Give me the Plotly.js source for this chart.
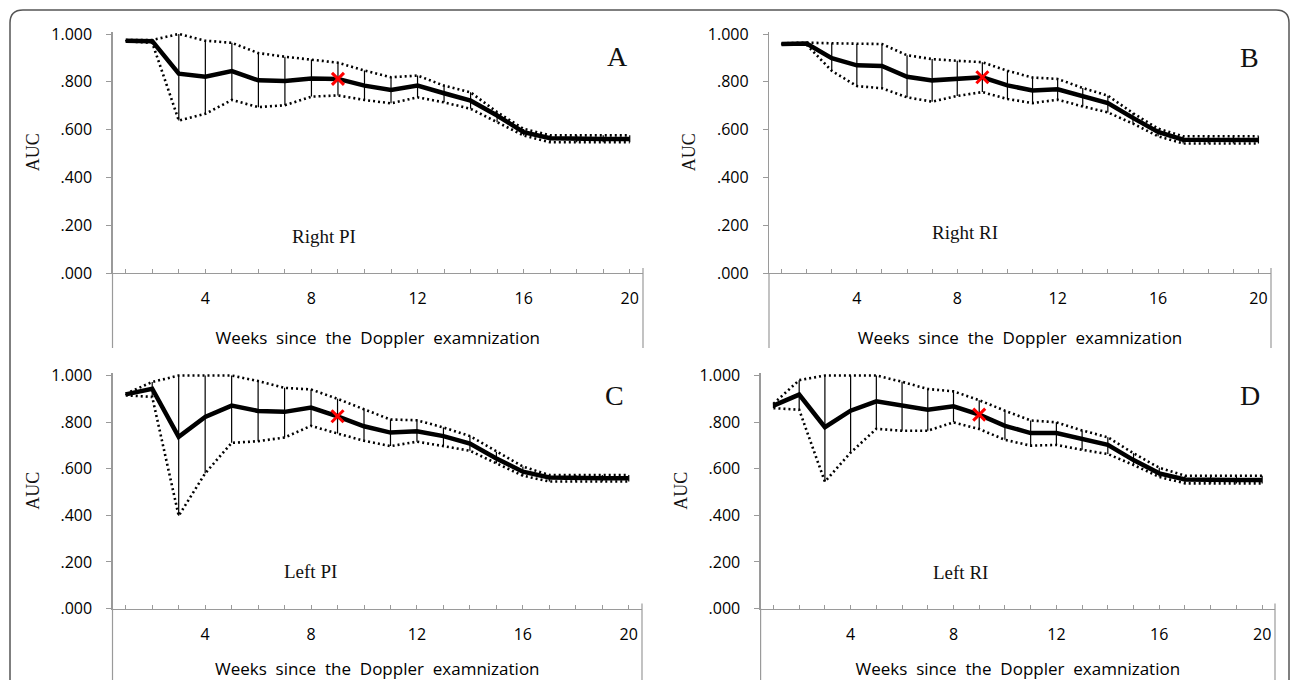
<!DOCTYPE html>
<html>
<head>
<meta charset="utf-8">
<script src="https://cdn.plot.ly/plotly-3.0.1.min.js"></script>
<style>html,body{margin:0;padding:0;background:#fff;}#chart{width:1292px;height:680px;}</style>
</head>
<body>
<div id="chart"></div>
<script>
// ---------------- DATA ----------------
const weeks = [1,2,3,4,5,6,7,8,9,10,11,12,13,14,15,16,17,18,19,20];
const xTickLabels = ['','','','4','','','','8','','','','12','','','','16','','','','20'];
const yTickVals = [0, 0.2, 0.4, 0.6, 0.8, 1.0];
const yTickLabels = ['.000', '.200', '.400', '.600', '.800', '1.000'];
const cutoffWeek = 9;

const panelNames = ['Right PI', 'Right RI', 'Left PI', 'Left RI'];
const panelLetters = ['A', 'B', 'C', 'D'];

// A: Right PI
const rightPI_mean  = [0.972,0.970,0.834,0.821,0.845,0.806,0.803,0.814,0.812,0.784,0.766,0.784,0.752,0.721,0.659,0.589,0.564,0.561,0.561,0.561];
const rightPI_upper = [0.975,0.975,1.000,0.972,0.963,0.920,0.905,0.893,0.880,0.847,0.819,0.826,0.784,0.756,0.673,0.603,0.576,0.576,0.576,0.576];
const rightPI_lower = [0.969,0.963,0.638,0.666,0.724,0.694,0.702,0.738,0.743,0.724,0.710,0.735,0.714,0.687,0.631,0.575,0.547,0.547,0.547,0.547];

// B: Right RI
const rightRI_mean  = [0.958,0.960,0.899,0.869,0.866,0.821,0.806,0.813,0.819,0.785,0.764,0.769,0.739,0.711,0.649,0.590,0.558,0.556,0.556,0.556];
const rightRI_upper = [0.961,0.964,0.961,0.958,0.958,0.911,0.895,0.888,0.882,0.846,0.818,0.812,0.774,0.742,0.669,0.604,0.572,0.572,0.572,0.572];
const rightRI_lower = [0.955,0.955,0.846,0.782,0.773,0.735,0.717,0.741,0.757,0.728,0.711,0.725,0.697,0.672,0.625,0.572,0.542,0.542,0.542,0.542];

// C: Left PI
const leftPI_mean  = [0.919,0.943,0.737,0.822,0.871,0.848,0.844,0.862,0.825,0.782,0.755,0.761,0.740,0.708,0.644,0.587,0.562,0.559,0.559,0.559];
const leftPI_upper = [0.922,0.972,1.000,1.000,1.000,0.976,0.947,0.940,0.900,0.855,0.811,0.808,0.777,0.740,0.673,0.609,0.573,0.573,0.573,0.573];
const leftPI_lower = [0.915,0.908,0.398,0.580,0.711,0.718,0.734,0.784,0.751,0.720,0.697,0.716,0.697,0.677,0.623,0.570,0.545,0.545,0.545,0.545];

// D: Left RI
const leftRI_mean  = [0.871,0.918,0.778,0.849,0.889,0.871,0.853,0.868,0.832,0.784,0.753,0.753,0.727,0.702,0.637,0.580,0.554,0.551,0.551,0.551];
const leftRI_upper = [0.879,0.980,1.000,1.000,1.000,0.973,0.942,0.932,0.894,0.849,0.807,0.799,0.764,0.735,0.666,0.604,0.570,0.570,0.570,0.570];
const leftRI_lower = [0.860,0.853,0.544,0.669,0.771,0.763,0.763,0.799,0.770,0.724,0.699,0.702,0.681,0.663,0.616,0.565,0.537,0.537,0.537,0.537];

// ---------------- BUILD ----------------
const series = [
  {mean: rightPI_mean, upper: rightPI_upper, lower: rightPI_lower},
  {mean: rightRI_mean, upper: rightRI_upper, lower: rightRI_lower},
  {mean: leftPI_mean,  upper: leftPI_upper,  lower: leftPI_lower},
  {mean: leftRI_mean,  upper: leftRI_upper,  lower: leftRI_lower}
];

const W = 1292, H = 680;
// pixel geometry of each plot area: left, right, y of 0, px per unit
const geo = [
  {l: 112.5, r: 643,  y0: 273,   k: 239},
  {l: 769,   r: 1271, y0: 273,   k: 239},
  {l: 112.5, r: 642,  y0: 608.5, k: 233},
  {l: 760.6, r: 1275, y0: 608.5, k: 233}
];
const yMax = 1.01;
const bottoms = [348, 348, 682, 682];
const letterPos = [[617, 56], [1249, 57], [614.5, 395], [1250, 395]];
const namePos = [[324, 236], [965, 232], [310, 571], [960, 572]];

const axisGray = '#9a9a9a';
const tickFont = {family: 'Open Sans, sans-serif', size: 16, color: '#000'};
const serif = 'Liberation Serif, Times New Roman, serif';

const traces = [];
const layout = {
  width: W, height: H,
  margin: {l: 0, r: 0, t: 0, b: 0},
  paper_bgcolor: '#fff', plot_bgcolor: '#fff',
  showlegend: false,
  shapes: [], annotations: []
};

series.forEach((s, i) => {
  const n = i + 1;
  const xa = n === 1 ? 'x' : 'x' + n;
  const ya = n === 1 ? 'y' : 'y' + n;
  const g = geo[i];

  const dotted = {color: '#000', width: 2.6, dash: '2px,3px'};
  traces.push({x: weeks, y: s.upper, xaxis: xa, yaxis: ya, mode: 'lines', line: dotted, hoverinfo: 'skip'});
  traces.push({x: weeks, y: s.lower, xaxis: xa, yaxis: ya, mode: 'lines', line: dotted, hoverinfo: 'skip'});
  traces.push({
    x: weeks, y: s.mean, xaxis: xa, yaxis: ya, mode: 'lines',
    line: {color: '#000', width: 4.5},
    error_y: {
      type: 'data', symmetric: false,
      array: s.upper.map((u, j) => u - s.mean[j]),
      arrayminus: s.lower.map((lo, j) => s.mean[j] - lo),
      color: '#000', thickness: 1.2, width: 0
    }
  });
  const ci = weeks.indexOf(cutoffWeek);
  traces.push({
    x: [weeks[ci]], y: [s.mean[ci]], xaxis: xa, yaxis: ya, mode: 'markers',
    marker: {symbol: 'x-thin', size: 12, color: '#ff0000', line: {color: '#ff0000', width: 3}},
    cliponaxis: false
  });

  const xdom = [g.l / W, g.r / W];
  const ydom = [1 - g.y0 / H, 1 - (g.y0 - g.k * yMax) / H];
  layout['xaxis' + (n === 1 ? '' : n)] = {
    domain: xdom, anchor: ya, range: [0.5, 20.5],
    tickmode: 'array', tickvals: weeks, ticktext: xTickLabels,
    showline: true, linecolor: axisGray, linewidth: 1.2,
    ticks: 'inside', ticklen: 4, tickcolor: axisGray, tickwidth: 1,
    showgrid: false, zeroline: false, tickfont: tickFont, ticklabelstandoff: 11,
    automargin: false, fixedrange: true,
    title: {text: 'Weeks\u00a0 since\u00a0 the\u00a0 Doppler\u00a0 examnization',
            font: {family: 'Open Sans, sans-serif', size: 17, color: '#000'}, standoff: 23}
  };
  layout['yaxis' + (n === 1 ? '' : n)] = {
    domain: ydom, anchor: xa, range: [0, yMax],
    tickmode: 'array', tickvals: yTickVals, ticktext: yTickLabels,
    showline: true, linecolor: axisGray, linewidth: 1.2,
    ticks: 'outside', ticklen: 5, tickcolor: axisGray, tickwidth: 1,
    showgrid: false, zeroline: false, tickfont: tickFont, ticklabelstandoff: 11,
    automargin: false, fixedrange: true,
    title: {text: 'AUC', font: {family: serif, size: 18, color: '#111'}, standoff: 7}
  };

  // gray vertical lines below the axis ends
  layout.shapes.push({type: 'line', xref: 'paper', yref: 'paper',
    x0: g.l / W, x1: g.l / W, y0: 1 - g.y0 / H, y1: 1 - bottoms[i] / H,
    line: {color: axisGray, width: 1.2}});
  layout.shapes.push({type: 'line', xref: 'paper', yref: 'paper',
    x0: g.r / W, x1: g.r / W, y0: 1 - (g.y0 - 5) / H, y1: 1 - bottoms[i] / H,
    line: {color: axisGray, width: 1.2}});

  layout.annotations.push({xref: 'paper', yref: 'paper', x: letterPos[i][0] / W, y: 1 - letterPos[i][1] / H,
    text: panelLetters[i], showarrow: false, xanchor: 'center', yanchor: 'middle',
    font: {family: serif, size: 28, color: '#111'}});
  layout.annotations.push({xref: 'paper', yref: 'paper', x: namePos[i][0] / W, y: 1 - namePos[i][1] / H,
    text: panelNames[i], showarrow: false, xanchor: 'center', yanchor: 'middle',
    font: {family: serif, size: 19, color: '#111'}});
});

// outer rounded frame
(function () {
  const x0 = 10 / W, x1 = 1289 / W, yt = 1 - 10 / H, yb = -0.02;
  const rx = 13 / W, ry = 13 / H;
  layout.shapes.push({type: 'path', xref: 'paper', yref: 'paper',
    path: `M ${x0},${yb} L ${x0},${yt - ry} Q ${x0},${yt} ${x0 + rx},${yt} L ${x1 - rx},${yt} Q ${x1},${yt} ${x1},${yt - ry} L ${x1},${yb}`,
    line: {color: '#555', width: 1.5}});
})();

Plotly.newPlot('chart', traces, layout, {displayModeBar: false, staticPlot: true});
</script>
</body>
</html>
